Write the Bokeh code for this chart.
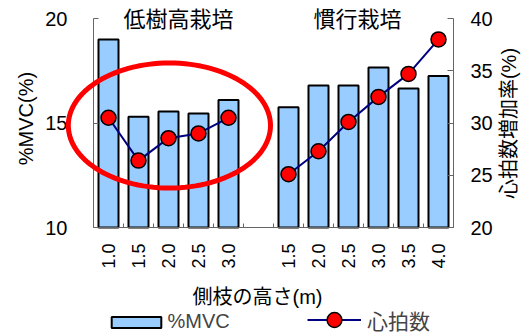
import math
from bokeh.plotting import figure
from bokeh.models import (Range1d, LinearAxis, FixedTicker, Label, Legend, LegendItem,
                          PolyAnnotation, ColumnDataSource)
from bokeh.embed import file_html
from bokeh.resources import INLINE

# ---- data ----
low_heights = ["1.0", "1.5", "2.0", "2.5", "3.0"]
conv_heights = ["1.5", "2.0", "2.5", "3.0", "3.5", "4.0"]
low_mvc = [19.0, 15.3, 15.55, 15.45, 16.1]
conv_mvc = [15.75, 16.8, 16.8, 17.65, 16.65, 17.25]
low_hr = [30.5, 26.4, 28.55, 29.0, 30.5]
conv_hr = [25.1, 27.3, 30.1, 32.5, 34.7, 38.0]
group_titles = ["低樹高栽培", "慣行栽培"]
left_ticks = [10, 15, 20]
right_ticks = [20, 25, 30, 35, 40]

FONT = "Liberation Sans, Noto Sans CJK JP"
CJK = "Noto Sans CJK JP"

# ---- layout (pixels) ----
W, H = 523, 334
PL, PR, PT, PB = 93, 453, 18, 227      # plot-area edges inside the canvas

# slot positions (one empty slot between groups)
low_x = [i + 0.5 for i in range(len(low_heights))]
conv_x = [len(low_heights) + 1 + j + 0.5 for j in range(len(conv_heights))]
n_slots = len(low_heights) + 1 + len(conv_heights)

L_MIN, L_MAX = left_ticks[0], left_ticks[-1]
R_MIN, R_MAX = right_ticks[0], right_ticks[-1]
xs = n_slots / (PR - PL)
ysl = (L_MAX - L_MIN) / (PB - PT)
ysr = (R_MAX - R_MIN) / (PB - PT)

p = figure(width=W, height=H,
           x_range=Range1d(-PL * xs, n_slots + (W - PR) * xs),
           y_range=Range1d(L_MIN - (H - PB) * ysl, L_MAX + PT * ysl),
           x_axis_type=None, y_axis_type=None,
           output_backend="svg", toolbar_location=None,
           min_border_left=0, min_border_right=0, min_border_top=0, min_border_bottom=0)
p.outline_line_color = None
p.background_fill_color = "white"
p.border_fill_color = "white"
p.extra_y_ranges = {"hr": Range1d(R_MIN - (H - PB) * ysr, R_MAX + PT * ysr)}

bar_src = ColumnDataSource(dict(x=low_x + conv_x, top=low_mvc + conv_mvc))
bars = p.vbar(x="x", top="top", bottom=L_MIN, width=0.667, source=bar_src,
              fill_color="#99ccff", line_color="black", line_width=2)

ln1 = p.line(low_x, low_hr, y_range_name="hr", line_color="#000080", line_width=2)
p.line(conv_x, conv_hr, y_range_name="hr", line_color="#000080", line_width=2)
sc = p.scatter(low_x + conv_x, low_hr + conv_hr, y_range_name="hr", size=15,
               fill_color="#ff0000", line_color="black", line_width=1.5)

AX = "#666666"
# bottom axis
centers = low_x + conv_x
ax = LinearAxis(fixed_location=L_MIN, bounds=(0, n_slots),
                ticker=FixedTicker(ticks=centers, minor_ticks=list(range(0, n_slots + 1))))
ax.major_label_overrides = {c: t for c, t in zip(centers, low_heights + conv_heights)}
ax.major_label_orientation = math.pi / 2
ax.major_tick_in = 0
ax.major_tick_out = 0
ax.minor_tick_in = 4
ax.minor_tick_out = 0
ax.major_label_standoff = 16
ax.major_label_text_font = FONT
ax.major_label_text_font_size = "18px"
ax.major_label_text_color = "black"
ax.axis_line_color = AX
ax.minor_tick_line_color = AX
p.add_layout(ax, "below")

# left axis
ly = LinearAxis(fixed_location=0, bounds=(L_MIN, L_MAX),
                ticker=FixedTicker(ticks=left_ticks, minor_ticks=[]))
ly.major_tick_in = 5
ly.major_tick_out = 0
ly.major_label_standoff = 26
ly.major_label_text_font = FONT
ly.major_label_text_font_size = "20px"
ly.major_label_text_color = "black"
ly.axis_line_color = AX
ly.major_tick_line_color = AX
p.add_layout(ly, "left")

# right axis
ry = LinearAxis(y_range_name="hr", fixed_location=n_slots, bounds=(R_MIN, R_MAX),
                ticker=FixedTicker(ticks=right_ticks, minor_ticks=[]))
ry.major_tick_in = 6
ry.major_tick_out = 0
ry.major_label_standoff = 17
ry.major_label_text_font = FONT
ry.major_label_text_font_size = "20px"
ry.major_label_text_color = "black"
ry.axis_line_color = AX
ry.major_tick_line_color = AX
p.add_layout(ry, "right")

# text labels (canvas pixel positions, y measured from top)
def lab(text, x, y, size, angle=0.0, font=FONT):
    p.add_layout(Label(x=x, y=H - y, x_units="screen", y_units="screen", text=text,
                       angle=angle, text_align="center", text_baseline="middle",
                       text_font=font, text_font_size=size, text_color="black"))

lab("%MVC(%)", 25, 118, "20px", math.pi / 2)
lab("心拍数増加率(%)", 508, 123, "20px", math.pi / 2)
lab("側枝の高さ(m)", 257, 296, "20px")
lab(group_titles[0], 178, 16, "22px", font=CJK)
lab(group_titles[1], 357, 16, "22px", font=CJK)

# red ellipse highlight
cx, cy, a, b = 2.53, 14.88, 3.37, 2.99
t = [2 * math.pi * k / 120 for k in range(120)]
p.add_layout(PolyAnnotation(xs=[cx + a * math.cos(v) for v in t],
                            ys=[cy + b * math.sin(v) for v in t],
                            xs_units="data", ys_units="data",
                            fill_color=None, fill_alpha=0,
                            line_color="#ff0000", line_alpha=1.0, line_width=5))

# legends
leg1 = Legend(items=[LegendItem(label="%MVC", renderers=[bars])],
              location=(104.5, 1), orientation="horizontal",
              glyph_width=62, glyph_height=14, label_standoff=1, padding=0, margin=0,
              border_line_color=None, background_fill_alpha=0,
              label_text_font=FONT, label_text_font_size="20px")
leg2 = Legend(items=[LegendItem(label="心拍数", renderers=[ln1, sc])],
              location=(307, -4), orientation="horizontal",
              glyph_width=54, glyph_height=37, label_standoff=6, padding=0, margin=0,
              border_line_color=None, background_fill_alpha=0,
              label_text_font=FONT, label_text_font_size="21px")
p.add_layout(leg1, "center")
p.add_layout(leg2, "center")

open("out.html", "w").write(file_html(p, INLINE))
